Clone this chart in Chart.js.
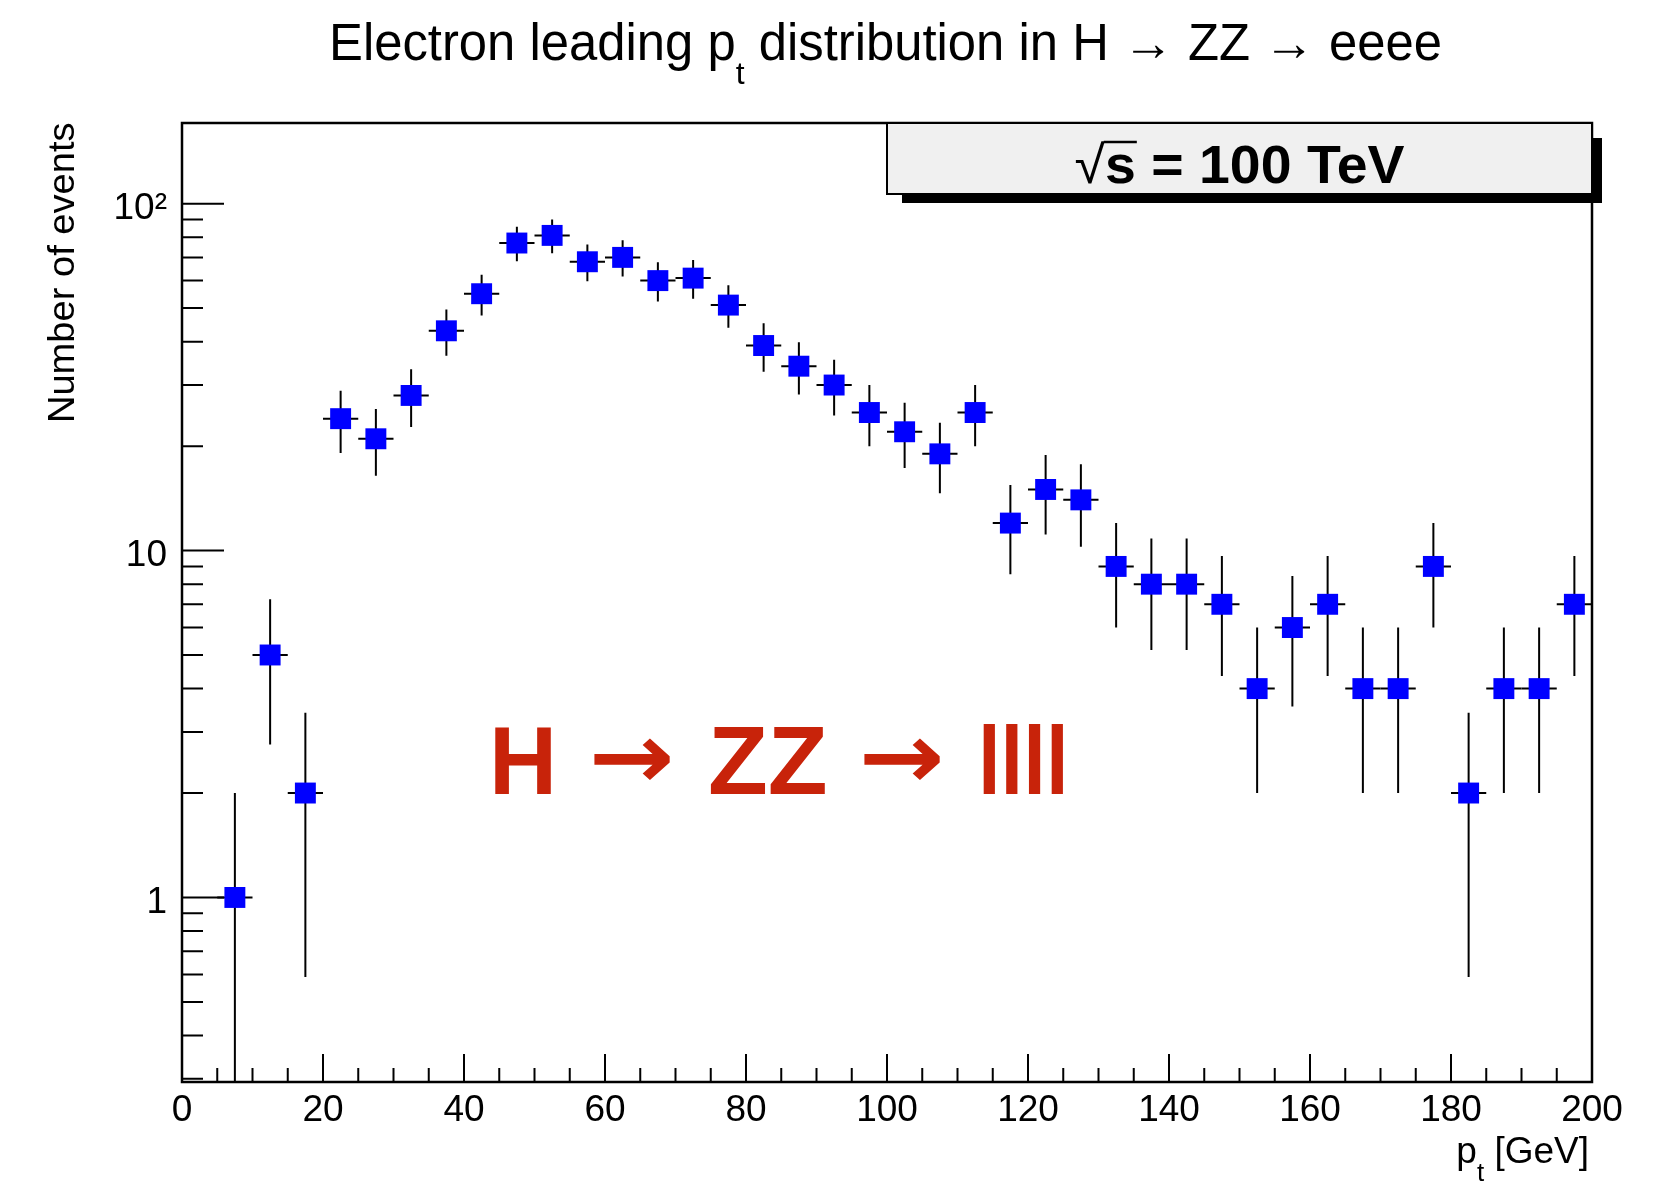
<!DOCTYPE html>
<html lang="es">
<head>
<meta charset="UTF-8">
<title>Electron leading pt distribution</title>
<script src="https://cdn.jsdelivr.net/npm/chart.js@4.4.1/dist/chart.umd.min.js"></script>
<style>
    html, body { margin: 0; padding: 0; background: #ffffff; }
    canvas { display: block; }
</style>
</head>
<body>
<canvas id="grafico" width="1655" height="1185"></canvas>
<script>
// Centros de los bins de pt [GeV] (bins de 5 GeV, el primero vacío)
const centrosPt = [7.5, 12.5, 17.5, 22.5, 27.5, 32.5, 37.5, 42.5, 47.5, 52.5,
    57.5, 62.5, 67.5, 72.5, 77.5, 82.5, 87.5, 92.5, 97.5, 102.5,
    107.5, 112.5, 117.5, 122.5, 127.5, 132.5, 137.5, 142.5, 147.5, 152.5,
    157.5, 162.5, 167.5, 172.5, 177.5, 182.5, 187.5, 192.5, 197.5];

// Número de eventos por bin
const eventos = [1, 5, 2, 24, 21, 28, 43, 55, 77, 81,
    68, 70, 60, 61, 51, 39, 34, 30, 25, 22,
    19, 25, 12, 15, 14, 9, 8, 8, 7, 4,
    6, 7, 4, 4, 9, 2, 4, 4, 7];

// Errores de cada bin (barras verticales)
const erroresEventos = [1.00, 2.24, 1.41, 4.90, 4.58, 5.29, 6.56, 7.42, 8.77, 9.00,
    8.25, 8.37, 7.75, 7.81, 7.14, 6.24, 5.83, 5.48, 5.00, 4.69,
    4.36, 5.00, 3.46, 3.87, 3.74, 3.00, 2.83, 2.83, 2.65, 2.00,
    2.45, 2.65, 2.00, 2.00, 3.00, 1.41, 2.00, 2.00, 2.65];

const mitadBin = 2.5;

// Marcas de los ejes
const marcasX = [0, 20, 40, 60, 80, 100, 120, 140, 160, 180, 200];
const marcasYPrincipales = [1, 10, 100];
const etiquetasY = ['1', '10', '10²'];
const rangoY = [0.2938, 170.8];

const fuente = '"Liberation Sans", Arial, Helvetica, sans-serif';
Chart.defaults.font.family = fuente;
Chart.defaults.color = '#000000';

// Dibuja un texto cuya tinta ocupa la caja (x, y) - (x + ancho) con base en y
function textoEnCaja(ctx, texto, x, base, ancho) {
    const m = ctx.measureText(texto);
    const tinta = m.actualBoundingBoxLeft + m.actualBoundingBoxRight;
    ctx.save();
    ctx.translate(x, base);
    ctx.scale(ancho / tinta, 1);
    ctx.fillText(texto, m.actualBoundingBoxLeft, 0);
    ctx.restore();
}

// Flecha centrada en (cx, cy) con ancho y alto de tinta dados
function flecha(ctx, cx, cy, ancho, alto) {
    const m = ctx.measureText('→');
    const tw = m.actualBoundingBoxLeft + m.actualBoundingBoxRight;
    const th = m.actualBoundingBoxAscent + m.actualBoundingBoxDescent;
    ctx.save();
    ctx.translate(cx, cy);
    ctx.scale(ancho / tw, alto / th);
    ctx.fillText('→', (m.actualBoundingBoxLeft - m.actualBoundingBoxRight) / 2,
        (m.actualBoundingBoxAscent - m.actualBoundingBoxDescent) / 2);
    ctx.restore();
}

// Marco, marcas hacia adentro, barras de error y textos estilo ROOT
const estiloRoot = {
    id: 'estiloRoot',
    beforeDatasetsDraw(chart) {
        const { ctx, chartArea: a, scales: { x, y } } = chart;
        ctx.save();
        ctx.beginPath();
        ctx.rect(a.left, a.top, a.right - a.left, a.bottom - a.top);
        ctx.clip();
        ctx.strokeStyle = '#000000';
        ctx.lineWidth = 2;
        centrosPt.forEach((c, i) => {
            const px = x.getPixelForValue(c);
            const py = y.getPixelForValue(eventos[i]);
            const bajo = eventos[i] - erroresEventos[i];
            const yBajo = bajo > 0 ? y.getPixelForValue(bajo) : a.bottom;
            const yAlto = y.getPixelForValue(eventos[i] + erroresEventos[i]);
            ctx.beginPath();
            ctx.moveTo(px, yAlto);
            ctx.lineTo(px, yBajo);
            ctx.moveTo(x.getPixelForValue(c - mitadBin), py);
            ctx.lineTo(x.getPixelForValue(c + mitadBin), py);
            ctx.stroke();
        });
        ctx.restore();
    },
    afterDraw(chart) {
        const { ctx, chartArea: a, scales: { x, y } } = chart;
        ctx.save();
        ctx.strokeStyle = '#000000';
        ctx.fillStyle = '#000000';
        ctx.lineWidth = 2;

        // marcas del eje x (cada 5 GeV, principales cada 20)
        ctx.beginPath();
        for (let v = 0; v <= 200; v += 5) {
            const px = x.getPixelForValue(v);
            const largo = v % 20 === 0 ? 28 : 14;
            ctx.moveTo(px, a.bottom);
            ctx.lineTo(px, a.bottom - largo);
        }
        // marcas del eje y (logarítmico)
        [0.1, 1, 10, 100].forEach(dec => {
            for (let k = 1; k <= 9; k++) {
                const v = k * dec;
                if (v < rangoY[0] || v > rangoY[1]) continue;
                const py = y.getPixelForValue(v);
                const largo = k === 1 ? 42 : 21;
                ctx.moveTo(a.left, py);
                ctx.lineTo(a.left + largo, py);
            }
        });
        ctx.stroke();

        // marco
        ctx.lineWidth = 2.5;
        ctx.strokeRect(a.left, a.top, a.right - a.left, a.bottom - a.top);

        // caja con la energía
        const bx = a.left + (a.right - a.left) * 0.5;
        const by = a.top;
        const bw = a.right - bx;
        const bh = 71;
        ctx.fillStyle = '#000000';
        ctx.fillRect(bx + 15, by + 15, bw - 5, bh - 6);
        ctx.fillStyle = '#f0f0f0';
        ctx.fillRect(bx, by, bw, bh);
        ctx.lineWidth = 2;
        ctx.strokeRect(bx, by, bw, bh);

        ctx.fillStyle = '#000000';
        ctx.textBaseline = 'alphabetic';
        ctx.textAlign = 'left';
        const baseCaja = 183;
        ctx.font = '53px ' + fuente;
        const mRaiz = ctx.measureText('√');
        ctx.font = 'bold 53px ' + fuente;
        const wResto = ctx.measureText('s = 100 TeV').width;
        const wTotal = mRaiz.width + wResto;
        const sx = 330 / wTotal;
        const x0 = bx + bw / 2 - 165;
        ctx.save();
        ctx.translate(x0, baseCaja);
        ctx.scale(sx, 1);
        ctx.font = '53px ' + fuente;
        ctx.fillText('√', 0, 0);
        ctx.font = 'bold 53px ' + fuente;
        ctx.fillText('s = 100 TeV', mRaiz.width, 0);
        const wS = ctx.measureText('s').width;
        ctx.lineWidth = 2.5;
        ctx.beginPath();
        const yBarra = -mRaiz.actualBoundingBoxAscent + 1;
        ctx.moveTo(mRaiz.actualBoundingBoxRight - 2, yBarra);
        ctx.lineTo(mRaiz.width + wS + 1, yBarra);
        ctx.stroke();
        ctx.restore();

        // título
        ctx.font = '51px ' + fuente;
        const tA = 'Electron leading p';
        const tB = ' distribution in H → ZZ → eeee';
        const wA = ctx.measureText(tA).width;
        const wB = ctx.measureText(tB).width;
        ctx.font = '32px ' + fuente;
        const wSub = ctx.measureText('t').width;
        const escalaT = 1113 / (wA + wSub + wB);
        ctx.save();
        ctx.translate(329, 60);
        ctx.scale(escalaT, 1);
        ctx.font = '51px ' + fuente;
        ctx.fillText(tA, 0, 0);
        ctx.font = '32px ' + fuente;
        ctx.fillText('t', wA, 24);
        ctx.font = '51px ' + fuente;
        ctx.fillText(tB, wA + wSub, 0);
        ctx.restore();

        // título del eje x: p_t [GeV]
        ctx.font = '37px ' + fuente;
        const wP = ctx.measureText('p').width;
        const wG = ctx.measureText(' [GeV]').width;
        ctx.font = '26px ' + fuente;
        const wT = ctx.measureText('t').width;
        const xt = 1589 - (wP + wT + wG);
        ctx.font = '37px ' + fuente;
        ctx.fillText('p', xt, 1163);
        ctx.font = '26px ' + fuente;
        ctx.fillText('t', xt + wP, 1181);
        ctx.font = '37px ' + fuente;
        ctx.fillText(' [GeV]', xt + wP + wT, 1163);

        // título del eje y
        ctx.save();
        ctx.translate(74, a.top);
        ctx.rotate(-Math.PI / 2);
        ctx.font = '37px ' + fuente;
        textoEnCaja(ctx, 'Number of events', -297, 0, 297);
        ctx.restore();

        // H -> ZZ -> llll en rojo
        ctx.fillStyle = '#c8230a';
        ctx.font = 'bold 96px ' + fuente;
        const baseRoja = 794;
        textoEnCaja(ctx, 'H', 495, baseRoja, 56);
        textoEnCaja(ctx, 'ZZ', 710, baseRoja, 115);
        textoEnCaja(ctx, 'llll', 983, baseRoja, 80);
        ctx.font = 'bold 96px "DejaVu Sans", ' + fuente;
        flecha(ctx, 632, 759, 76, 43);
        flecha(ctx, 902, 759, 76, 43);
        ctx.restore();
    }
};

const puntos = centrosPt.map((c, i) => ({ x: c, y: eventos[i] }));

const grafico = new Chart(document.getElementById('grafico').getContext('2d'), {
    type: 'scatter',
    data: {
        datasets: [{
            label: 'eventos',
            data: puntos,
            pointStyle: 'rect',
            pointRadius: 14.8,
            pointHoverRadius: 14.8,
            pointBorderWidth: 0,
            pointBackgroundColor: '#0000ff',
            showLine: false
        }]
    },
    options: {
        responsive: false,
        animation: false,
        events: [],
        layout: { padding: { top: 123, right: 63, left: 0, bottom: 0 } },
        plugins: {
            legend: { display: false },
            tooltip: { enabled: false },
            title: { display: false }
        },
        scales: {
            x: {
                type: 'linear',
                min: 0,
                max: 200,
                afterFit: (escala) => { escala.height = 103; },
                afterBuildTicks: (escala) => { escala.ticks = marcasX.map(v => ({ value: v })); },
                grid: { display: false, drawTicks: false },
                border: { display: false },
                ticks: {
                    autoSkip: false,
                    maxRotation: 0,
                    padding: 7,
                    font: { size: 37 },
                    color: '#000000'
                }
            },
            y: {
                type: 'logarithmic',
                min: rangoY[0],
                max: rangoY[1],
                afterFit: (escala) => { escala.width = 182; },
                afterBuildTicks: (escala) => { escala.ticks = marcasYPrincipales.map(v => ({ value: v })); },
                grid: { display: false, drawTicks: false },
                border: { display: false },
                ticks: {
                    autoSkip: false,
                    padding: 15,
                    labelOffset: 5,
                    font: { size: 37 },
                    color: '#000000',
                    callback: (valor) => {
                        const i = marcasYPrincipales.indexOf(valor);
                        return i >= 0 ? etiquetasY[i] : '';
                    }
                }
            }
        }
    },
    plugins: [estiloRoot]
});
</script>
</body>
</html>
